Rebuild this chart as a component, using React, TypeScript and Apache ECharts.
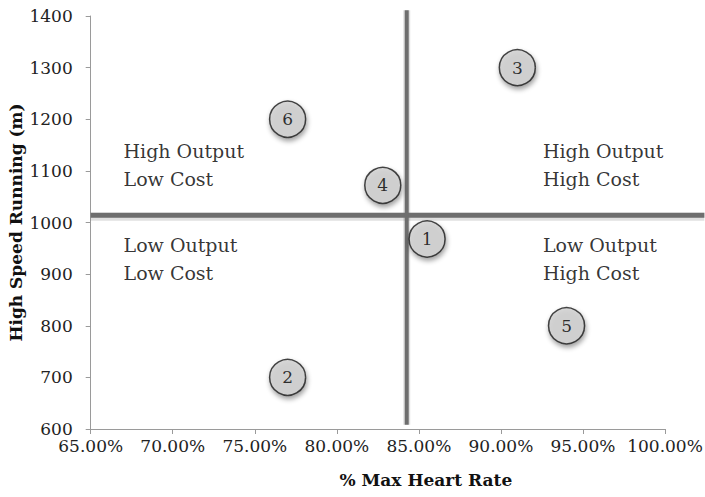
import React, { useEffect, useRef } from "react";
import * as echarts from "echarts";

const pointLabels = ["1", "2", "3", "4", "5", "6"];
const heartRate = [85.5, 77.0, 91.0, 82.8, 94.0, 77.0];
const hsr = [968, 700, 1300, 1072, 800, 1200];

const xTicks = [65, 70, 75, 80, 85, 90, 95, 100];
const yTicks = [600, 700, 800, 900, 1000, 1100, 1200, 1300, 1400];

const crossX = 84.26;
const crossY = 1014;
const vLineY = [608, 1411];
const hLineX = [65, 102.4];

const quadrantLabels = ["High Output\nLow Cost", "High Output\nHigh Cost", "Low Output\nLow Cost", "Low Output\nHigh Cost"];
const quadrantX = [67.0, 92.56, 67.0, 92.56];
const quadrantY = [1111, 1111, 929, 929];

const FONT = "DejaVu Serif";

export default function App() {
  const ref = useRef<HTMLDivElement>(null);
  useEffect(() => {
    if (!ref.current) return;
    const chart = echarts.init(ref.current, undefined, { renderer: "svg" });
    const lineBase = { type: "line", clip: false, symbol: "none", silent: true };
    chart.setOption({
      animation: false,
      backgroundColor: "#ffffff",
      grid: { left: 90.7, right: 40, top: 16, bottom: 68, containLabel: false, outerBoundsMode: "none" },
      xAxis: {
        type: "value",
        min: xTicks[0],
        max: xTicks[xTicks.length - 1],
        interval: 5,
        name: "% Max Heart Rate",
        nameLocation: "middle",
        nameGap: 42,
        nameMoveOverlap: false,
        nameTextStyle: { fontFamily: FONT, fontWeight: "bold", fontSize: 17, color: "#111", padding: [0, 0, 0, 96] },
        axisLine: { show: true, lineStyle: { color: "#9a9a9a", width: 1 } },
        axisTick: { show: true, inside: false, length: 5, lineStyle: { color: "#9a9a9a" } },
        splitLine: { show: false },
        axisLabel: {
          fontFamily: FONT,
          fontSize: 17,
          color: "#222",
          margin: 8,
          formatter: (v: number) => v.toFixed(2) + "%",
        },
      },
      yAxis: {
        type: "value",
        min: yTicks[0],
        max: yTicks[yTicks.length - 1],
        interval: 100,
        name: "High Speed Running (m)",
        nameLocation: "middle",
        nameGap: 66,
        nameMoveOverlap: false,
        nameTextStyle: { fontFamily: FONT, fontWeight: "bold", fontSize: 17, color: "#111" },
        axisLine: { show: true, lineStyle: { color: "#9a9a9a", width: 1 } },
        axisTick: { show: true, inside: false, length: 5, lineStyle: { color: "#9a9a9a" } },
        splitLine: { show: false },
        axisLabel: { fontFamily: FONT, fontSize: 17, color: "#222", margin: 18, formatter: (v: number) => String(v) },
      },
      series: [
        {
          ...lineBase,
          data: [[crossX, vLineY[0]], [crossX, vLineY[1]]],
          lineStyle: { color: "rgba(0,0,0,0.12)", width: 7 },
          z: 1,
        },
        {
          ...lineBase,
          data: [[crossX, vLineY[0]], [crossX, vLineY[1]]],
          lineStyle: { color: "#6e6e6e", width: 4 },
          z: 2,
        },
        {
          type: "scatter",
          data: quadrantLabels.map((t, i) => ({ value: [quadrantX[i], quadrantY[i]], name: t })),
          symbolSize: 0,
          silent: true,
          label: {
            show: true,
            position: "right",
            distance: 0,
            formatter: (p: any) => p.name,
            fontFamily: FONT,
            fontSize: 19,
            lineHeight: 28,
            color: "#000",
            align: "left",
            verticalAlign: "middle",
          },
          z: 3,
        },
        {
          type: "scatter",
          data: pointLabels.map((t, i) => ({ value: [heartRate[i], hsr[i]], name: t })),
          symbol: "circle",
          symbolSize: 36,
          itemStyle: {
            color: "#d0d0d0",
            borderColor: "#1a1a1a",
            borderWidth: 1.5,
            shadowColor: "rgba(0,0,0,0.45)",
            shadowBlur: 5,
            shadowOffsetX: 1,
            shadowOffsetY: 3,
          },
          label: {
            show: true,
            position: "inside",
            formatter: (p: any) => p.name,
            fontFamily: FONT,
            fontSize: 17,
            color: "#000",
          },
          z: 5,
        },
      ],
    });
    const p0 = chart.convertToPixel({ gridIndex: 0 }, [hLineX[0], crossY]) as number[];
    const p1 = chart.convertToPixel({ gridIndex: 0 }, [hLineX[1], crossY]) as number[];
    chart.setOption({
      graphic: [
        {
          type: "line",
          silent: true,
          z: 1,
          shape: { x1: p0[0], y1: p0[1] + 1.5, x2: p1[0], y2: p1[1] + 1.5 },
          style: { stroke: "rgba(0,0,0,0.12)", lineWidth: 8 },
        },
        {
          type: "line",
          silent: true,
          z: 2,
          shape: { x1: p0[0], y1: p0[1], x2: p1[0], y2: p1[1] },
          style: { stroke: "#6e6e6e", lineWidth: 5 },
        },
      ],
    });
    return () => chart.dispose();
  }, []);
  return <div ref={ref} style={{ width: 705, height: 497, position: "absolute", left: 0, top: 0 }} />;
}
